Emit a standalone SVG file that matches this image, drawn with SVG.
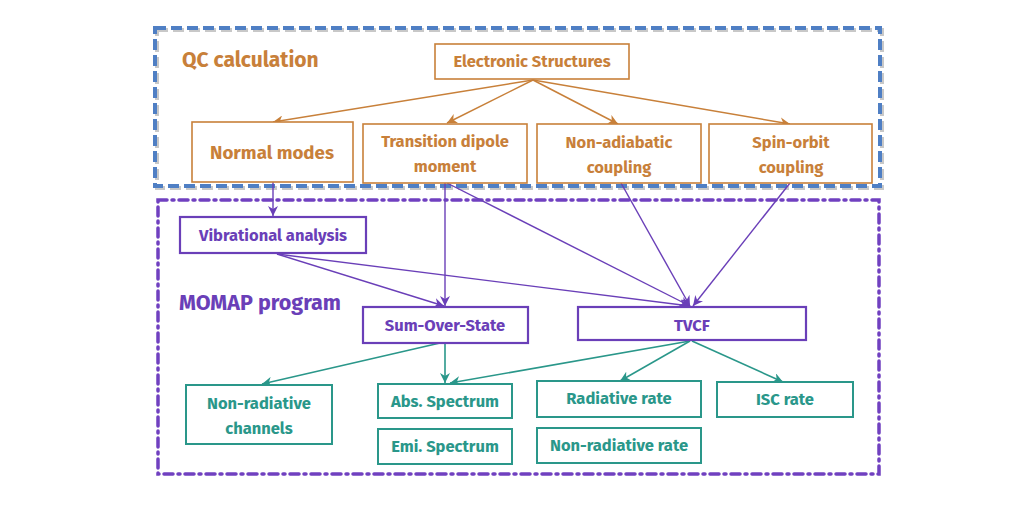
<svg xmlns="http://www.w3.org/2000/svg" width="1017" height="517" viewBox="0 0 1017 517">
<defs>
<style>
text{font-family:"Fira Sans","Lato","Liberation Sans",sans-serif;font-weight:bold;text-anchor:middle}
.o{fill:#fff;stroke:#c8803a;stroke-width:1.6}
.p{fill:#fff;stroke:#6a3fb8;stroke-width:2.2}
.t{fill:#fff;stroke:#2a978a;stroke-width:2}
.ot{fill:#c8803a}
.pt{fill:#6a3fb8}
.tt{fill:#2a978a}
.ol{stroke:#c8803a;stroke-width:1.5;fill:none}
.pl{stroke:#6a3fb8;stroke-width:1.4;fill:none}
.tl{stroke:#2a978a;stroke-width:1.6;fill:none}
</style>
<marker id="ao" viewBox="0 0 10 10" refX="10" refY="5" markerWidth="10" markerHeight="10" markerUnits="userSpaceOnUse" orient="auto">
<path d="M0,0 L10,5 L0,10 L3,5 Z" fill="#c8803a"/>
</marker>
<marker id="ap" viewBox="0 0 10 10" refX="10" refY="5" markerWidth="10" markerHeight="10" markerUnits="userSpaceOnUse" orient="auto">
<path d="M0,0 L10,5 L0,10 L3,5 Z" fill="#6a3fb8"/>
</marker>
<marker id="at" viewBox="0 0 10 10" refX="10" refY="5" markerWidth="10" markerHeight="10" markerUnits="userSpaceOnUse" orient="auto">
<path d="M0,0 L10,5 L0,10 L3,5 Z" fill="#2a978a"/>
</marker>
</defs>
<rect width="1017" height="517" fill="#fff"/>

<g id="qc-frame">
<rect x="157" y="30" width="725" height="158" fill="none" stroke="#c8c8c8" stroke-width="4" stroke-dasharray="11,5"/>
<rect x="155" y="28" width="725" height="158" fill="none" stroke="#4f7fc4" stroke-width="4" stroke-dasharray="11,5"/>
<text x="182" y="67" class="ot" style="text-anchor:start;font-size:21px">QC calculation</text>
</g>

<g id="momap-frame">
<rect x="158" y="200" width="721" height="274" fill="none" stroke="#7040c0" stroke-width="3.5" stroke-dasharray="9,5,2,5" stroke-linecap="round"/>
<text x="179" y="310" class="pt" style="text-anchor:start;font-size:21.5px">MOMAP program</text>
</g>

<g id="connectors">
<line x1="533" y1="80" x2="273" y2="122" class="ol" marker-end="url(#ao)"/>
<line x1="533" y1="80" x2="447" y2="123" class="ol" marker-end="url(#ao)"/>
<line x1="533" y1="80" x2="618" y2="124" class="ol" marker-end="url(#ao)"/>
<line x1="533" y1="80" x2="790" y2="124" class="ol" marker-end="url(#ao)"/>

<line x1="273" y1="182" x2="273" y2="216" class="pl" marker-end="url(#ap)"/>
<line x1="445" y1="183" x2="445" y2="306" class="pl" marker-end="url(#ap)"/>
<line x1="277" y1="254" x2="444" y2="306" class="pl" marker-end="url(#ap)"/>
<line x1="277" y1="254" x2="690" y2="306" class="pl" marker-end="url(#ap)"/>
<line x1="447" y1="183" x2="690" y2="306" class="pl" marker-end="url(#ap)"/>
<line x1="621" y1="183" x2="690" y2="306" class="pl" marker-end="url(#ap)"/>
<line x1="790" y1="183" x2="693" y2="306" class="pl" marker-end="url(#ap)"/>

<line x1="440" y1="343" x2="262" y2="384" class="tl" marker-end="url(#at)"/>
<line x1="445" y1="343" x2="445" y2="383" class="tl" marker-end="url(#at)"/>
<line x1="690" y1="341" x2="450" y2="383" class="tl" marker-end="url(#at)"/>
<line x1="690" y1="341" x2="620" y2="381" class="tl" marker-end="url(#at)"/>
<line x1="692" y1="341" x2="783" y2="382" class="tl" marker-end="url(#at)"/>
</g>

<g id="electronic-structures">
<rect x="435" y="44" width="194" height="35" class="o"/>
<text x="532" y="67" class="ot" font-size="16.5">Electronic Structures</text>
</g>
<g id="normal-modes">
<rect x="192" y="122" width="161" height="60" class="o"/>
<text x="272" y="159" class="ot" font-size="18.7">Normal modes</text>
</g>
<g id="transition-dipole">
<rect x="363" y="124" width="164" height="59" class="o"/>
<text x="445" y="147" class="ot" font-size="16.5">Transition dipole</text>
<text x="445" y="172" class="ot" font-size="16.5">moment</text>
</g>
<g id="non-adiabatic">
<rect x="537" y="124" width="164" height="59" class="o"/>
<text x="619" y="148" class="ot" font-size="16.5">Non-adiabatic</text>
<text x="619" y="173" class="ot" font-size="16.5">coupling</text>
</g>
<g id="spin-orbit">
<rect x="709" y="124" width="163" height="59" class="o"/>
<text x="791" y="148" class="ot" font-size="16.5">Spin-orbit</text>
<text x="791" y="173" class="ot" font-size="16.5">coupling</text>
</g>

<g id="vibrational-analysis">
<rect x="180" y="217" width="186" height="36" class="p"/>
<text x="273" y="241" class="pt" font-size="16.5">Vibrational analysis</text>
</g>
<g id="sum-over-state">
<rect x="363" y="307" width="165" height="36" class="p"/>
<text x="445" y="331" class="pt" font-size="16.5">Sum-Over-State</text>
</g>
<g id="tvcf">
<rect x="578" y="307" width="228" height="33" class="p"/>
<text x="692" y="331" class="pt" font-size="16.5">TVCF</text>
</g>

<g id="non-radiative-channels">
<rect x="186" y="385" width="146" height="59" class="t"/>
<text x="259" y="409" class="tt" font-size="16.5">Non-radiative</text>
<text x="259" y="434" class="tt" font-size="16.5">channels</text>
</g>
<g id="abs-spectrum">
<rect x="378" y="384" width="134" height="34" class="t"/>
<text x="445" y="407" class="tt" font-size="16.5">Abs. Spectrum</text>
</g>
<g id="emi-spectrum">
<rect x="378" y="429" width="134" height="35" class="t"/>
<text x="445" y="452" class="tt" font-size="16.5">Emi. Spectrum</text>
</g>
<g id="radiative-rate">
<rect x="537" y="381" width="164" height="36" class="t"/>
<text x="619" y="404" class="tt" font-size="16.5">Radiative rate</text>
</g>
<g id="non-radiative-rate">
<rect x="537" y="428" width="164" height="35" class="t"/>
<text x="619" y="451" class="tt" font-size="16.5">Non-radiative rate</text>
</g>
<g id="isc-rate">
<rect x="717" y="382" width="136" height="35" class="t"/>
<text x="785" y="405" class="tt" font-size="16.5">ISC rate</text>
</g>
</svg>
